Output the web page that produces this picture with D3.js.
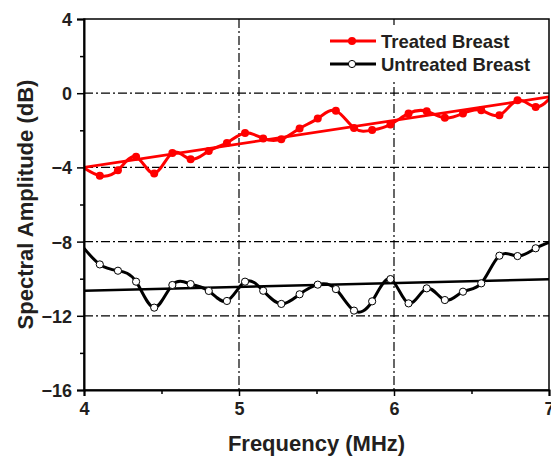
<!DOCTYPE html>
<html><head><meta charset="utf-8">
<script src="https://cdn.jsdelivr.net/npm/d3@7"></script>
<style>
body{margin:0;background:#fff}
text{font-family:Arial,"Liberation Sans",sans-serif;font-weight:bold;fill:#231f20}
</style>
</head><body><svg id="c" width="551" height="458"></svg>
<script>
// Frequencies (MHz) of the plotted spectral samples
const freq = [4.102, 4.219, 4.336, 4.453, 4.570, 4.688, 4.805, 4.922, 5.039, 5.156,
              5.273, 5.391, 5.508, 5.625, 5.742, 5.859, 5.977, 6.094, 6.211, 6.328,
              6.445, 6.563, 6.680, 6.797, 6.914];
const treated = [-4.45, -4.15, -3.43, -4.33, -3.22, -3.56, -3.11, -2.68, -2.14, -2.44,
                 -2.48, -1.90, -1.36, -0.95, -1.87, -1.99, -1.69, -1.09, -0.97, -1.33,
                 -1.09, -0.92, -1.19, -0.38, -0.74];
const untreated = [-9.23, -9.57, -10.16, -11.56, -10.34, -10.29, -10.66, -11.20, -10.16, -10.65,
                   -11.36, -10.84, -10.32, -10.56, -11.72, -11.22, -10.02, -11.33, -10.52, -11.15,
                   -10.70, -10.25, -8.76, -8.78, -8.36];
// samples just outside the plotted range (curve only, clipped)
const edgeFreq = [3.984, 7.031];
const treatedEdge = [-3.95, -0.05];
const untreatedEdge = [-8.2, -7.95];
// linear fits
const fitFreq = [4, 7];
const treatedFit = [-4.0, -0.2];
const untreatedFit = [-10.65, -10.03];

const xTicks = [4, 5, 6, 7];
const xMinor = [4.5, 5.5, 6.5];
const yTicks = [-16, -12, -8, -4, 0, 4];
const yMinor = [-14, -10, -6, -2, 2];
const xGrid = [5, 6];
const yGrid = [-12, -8, -4, 0];

const L = 84, R = 549, T = 19, B = 390;
const x = d3.scaleLinear().domain([4, 7]).range([L, R]);
const y = d3.scaleLinear().domain([-16, 4]).range([B, T]);
const svg = d3.select("#c");

svg.append("defs").append("clipPath").attr("id", "clip")
  .append("rect").attr("x", L).attr("y", T).attr("width", R - L).attr("height", B - T);

// grid
const dash = "9,3,2,3";
svg.append("g").selectAll("line").data(yGrid).join("line")
  .attr("x1", L).attr("x2", R).attr("y1", d => y(d)).attr("y2", d => y(d))
  .attr("stroke", "#000").attr("stroke-width", 1.2).attr("stroke-dasharray", dash);
svg.append("g").selectAll("line").data(xGrid).join("line")
  .attr("y1", T).attr("y2", B).attr("x1", d => x(d)).attr("x2", d => x(d))
  .attr("stroke", "#000").attr("stroke-width", 1.2).attr("stroke-dasharray", dash);

// legend background
svg.append("rect").attr("x", 325).attr("y", 25).attr("width", 222).attr("height", 54).attr("fill", "#fff");

const plot = svg.append("g").attr("clip-path", "url(#clip)");
const line = d3.line().x(d => x(d[0])).y(d => y(d[1])).curve(d3.curveNatural);
const lin = d3.line().x(d => x(d[0])).y(d => y(d[1]));

const tPts = [[edgeFreq[0], treatedEdge[0]], ...freq.map((f, i) => [f, treated[i]]), [edgeFreq[1], treatedEdge[1]]];
const uPts = [[edgeFreq[0], untreatedEdge[0]], ...freq.map((f, i) => [f, untreated[i]]), [edgeFreq[1], untreatedEdge[1]]];

plot.append("path").attr("d", lin(fitFreq.map((f, i) => [f, untreatedFit[i]])))
  .attr("fill", "none").attr("stroke", "#000").attr("stroke-width", 2.6);
plot.append("path").attr("d", line(uPts)).attr("fill", "none").attr("stroke", "#000").attr("stroke-width", 3);
plot.selectAll("circle.u").data(freq).join("circle").attr("class", "u")
  .attr("cx", d => x(d)).attr("cy", (d, i) => y(untreated[i])).attr("r", 3.6)
  .attr("fill", "#fff").attr("stroke", "#000").attr("stroke-width", 1);

plot.append("path").attr("d", lin(fitFreq.map((f, i) => [f, treatedFit[i]])))
  .attr("fill", "none").attr("stroke", "#ff0000").attr("stroke-width", 2.6);
plot.append("path").attr("d", line(tPts)).attr("fill", "none").attr("stroke", "#ff0000").attr("stroke-width", 3);
plot.selectAll("circle.t").data(freq).join("circle").attr("class", "t")
  .attr("cx", d => x(d)).attr("cy", (d, i) => y(treated[i])).attr("r", 4)
  .attr("fill", "#ff0000");

// frame
svg.append("rect").attr("x", L).attr("y", T).attr("width", R - L).attr("height", B - T)
  .attr("fill", "none").attr("stroke", "#000").attr("stroke-width", 1.5);

// axes
const xAx = svg.append("g").attr("transform", `translate(0,${B})`)
  .call(d3.axisBottom(x).tickValues(xTicks).tickSize(6).tickPadding(6).tickFormat(d3.format("d")));
svg.append("g").attr("transform", `translate(0,${B})`)
  .call(d3.axisBottom(x).tickValues(xMinor).tickSize(4).tickFormat(""))
  .call(g => g.select(".domain").remove());
const yAx = svg.append("g").attr("transform", `translate(${L},0)`)
  .call(d3.axisLeft(y).tickValues(yTicks).tickSize(7).tickPadding(5).tickFormat(d3.format("d")));
svg.append("g").attr("transform", `translate(${L},0)`)
  .call(d3.axisLeft(y).tickValues(yMinor).tickSize(4).tickFormat(""))
  .call(g => g.select(".domain").remove());
svg.selectAll(".domain").attr("stroke-width", 2);
svg.selectAll(".tick line").attr("stroke-width", 1.5);
svg.selectAll(".tick text").attr("font-size", 18).attr("font-family", "Arial, 'Liberation Sans', sans-serif")
  .attr("font-weight", "bold").attr("fill", "#231f20");
yAx.selectAll(".tick text").attr("dy", "0.36em");

// axis titles
svg.append("text").attr("x", (L + R) / 2).attr("y", 451).attr("text-anchor", "middle")
  .attr("font-size", 22).text("Frequency (MHz)");
svg.append("text").attr("transform", `translate(33,${(T + B) / 2}) rotate(-90)`)
  .attr("text-anchor", "middle").attr("font-size", 22).text("Spectral Amplitude (dB)");

// legend
const leg = [
  {name: "Treated Breast", color: "#ff0000", fill: "#ff0000", y: 41},
  {name: "Untreated Breast", color: "#000", fill: "#fff", y: 64}
];
const lg = svg.append("g");
leg.forEach(l => {
  lg.append("line").attr("x1", 330).attr("x2", 376).attr("y1", l.y).attr("y2", l.y)
    .attr("stroke", l.color).attr("stroke-width", 3);
  lg.append("circle").attr("cx", 352).attr("cy", l.y).attr("r", l.fill === "#fff" ? 3.6 : 4)
    .attr("fill", l.fill).attr("stroke", l.fill === "#fff" ? "#000" : "none").attr("stroke-width", 1);
  lg.append("text").attr("x", 381).attr("y", l.y + 6.5).attr("font-size", 18.5).text(l.name);
});
</script></body></html>
